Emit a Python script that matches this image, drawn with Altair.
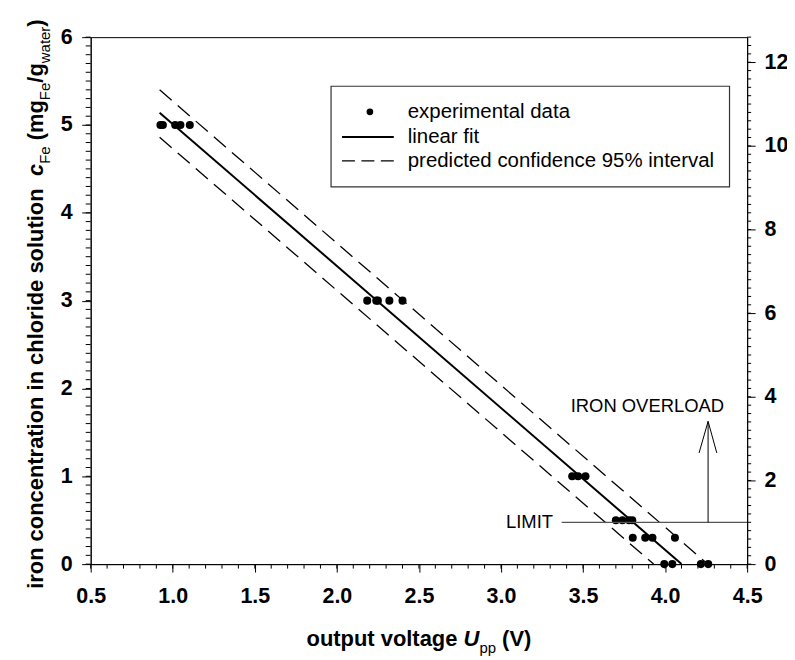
import altair as alt
import pandas as pd

FONT = "Liberation Sans"

# ---------------- data ----------------
# experimental data: concentration levels (mg_Fe/g_water) and voltages measured at each level
conc_levels = [5.0, 3.0, 1.0, 0.5, 0.3, 0.0]
volt_at_5 = [0.925, 0.94, 1.015, 1.047, 1.104]
volt_at_3 = [2.185, 2.24, 2.25, 2.32, 2.40]
volt_at_1 = [3.434, 3.47, 3.515]
volt_at_05 = [3.70, 3.74, 3.78, 3.80]
volt_at_03 = [3.803, 3.879, 3.923, 4.06]
volt_at_0 = [3.995, 4.044, 4.218, 4.263]

# linear fit and 95% prediction band (end points)
fit_volt = [0.92, 4.10]
fit_conc = [5.14, 0.0]
upper_volt = [0.92, 4.26]
upper_conc = [5.40, 0.0]
lower_volt = [0.92, 3.93]
lower_conc = [4.86, 0.0]

# limit line / overload arrow
limit_conc = 0.475            # corresponds to 1 on the right-hand axis
limit_volt = [3.37, 4.5]
arrow_volt = 4.262
arrow_top = 1.625
head_volt = [4.207, 4.262, 4.315]
head_conc = [1.266, 1.625, 1.266]

overload_text, overload_v, overload_c = "IRON OVERLOAD", 3.892, 1.795
limit_text, limit_v = "LIMIT", 3.317

legend_labels = ["experimental data", "linear fit", "predicted confidence 95% interval"]

x_domain = [0.5, 4.5]
y_domain = [0, 6]
r_domain = [0, 12.6]
x_major = [0.5, 1.0, 1.5, 2.0, 2.5, 3.0, 3.5, 4.0, 4.5]
y_major = [0, 1, 2, 3, 4, 5, 6]
r_major = [0, 2, 4, 6, 8, 10, 12]
x_minor = [round(0.5 + 0.1 * i, 2) for i in range(41)]
y_minor = [round(0.1 * i, 2) for i in range(61)]
r_minor = [round(0.2 * i, 2) for i in range(64)]

# ---------------- layout ----------------
W, H = 659, 529
LABEL_SIZE = 21.5
TITLE_SIZE = 22
SUB_SIZE = 15
SUB_SHIFT = 7
TICK = "black"

pts = pd.DataFrame({
    "v": volt_at_5 + volt_at_3 + volt_at_1 + volt_at_05 + volt_at_03 + volt_at_0,
    "c": [conc_levels[0]] * len(volt_at_5) + [conc_levels[1]] * len(volt_at_3)
    + [conc_levels[2]] * len(volt_at_1) + [conc_levels[3]] * len(volt_at_05)
    + [conc_levels[4]] * len(volt_at_03) + [conc_levels[5]] * len(volt_at_0),
})
fit_df = pd.DataFrame({"v": fit_volt, "c": fit_conc})
band_df = pd.DataFrame({"v": upper_volt + lower_volt, "c": upper_conc + lower_conc,
                        "band": ["upper"] * 2 + ["lower"] * 2})
limit_df = pd.DataFrame({"v": [limit_volt[0]], "v2": [limit_volt[1]], "c": [limit_conc]})
shaft_df = pd.DataFrame({"v": [arrow_volt], "c": [limit_conc], "c2": [arrow_top]})
head_df = pd.DataFrame({"v": head_volt, "c": head_conc, "o": [0, 1, 2]})
ann_df = pd.DataFrame({"v": [overload_v], "c": [overload_c], "t": [overload_text]})
lim_txt_df = pd.DataFrame({"v": [limit_v], "c": [limit_conc], "t": [limit_text]})

xscale = alt.Scale(domain=x_domain, nice=False, zero=False)
yscale = alt.Scale(domain=y_domain, nice=False, zero=False)
rscale = alt.Scale(domain=r_domain, nice=False, zero=False)

common = dict(title=None, grid=False, tickColor="black", tickWidth=1, domainColor="black",
              domainWidth=1, labelFont=FONT, labelFontSize=LABEL_SIZE, labelFontWeight="bold",
              labelColor="black", labelFlush=False, labelOverlap=False)
x_axis = alt.Axis(values=x_major, format=".1f", orient="bottom", tickSize=8, labelPadding=13.5, **common)
y_axis = alt.Axis(values=y_major, format="d", orient="left", tickSize=9, labelPadding=9.5, **common)
r_axis = alt.Axis(values=r_major, format="d", orient="right", tickSize=8, labelPadding=9, **common)

X = alt.X("v:Q", scale=xscale, axis=x_axis)
Y = alt.Y("c:Q", scale=yscale, axis=y_axis)
R = alt.Y("r:Q", scale=rscale, axis=r_axis)

points = alt.Chart(pts).mark_circle(size=65, color="black", opacity=1).encode(x=X, y=Y)
fit = alt.Chart(fit_df).mark_line(color="black", strokeWidth=2).encode(x=X, y=Y)
bands = alt.Chart(band_df).mark_line(color="black", strokeWidth=1.3, strokeDash=[16, 8]).encode(
    x=X, y=Y, detail="band:N")
limit = alt.Chart(limit_df).mark_rule(color="#555555", strokeWidth=1.2).encode(
    x=X, x2=alt.X2("v2"), y=Y)
shaft = alt.Chart(shaft_df).mark_rule(color="black", strokeWidth=1).encode(
    x=X, y=Y, y2=alt.Y2("c2"))
head = alt.Chart(head_df).mark_line(color="black", strokeWidth=1).encode(
    x=X, y=Y, order="o:Q")
overload = alt.Chart(ann_df).mark_text(font=FONT, fontSize=18.5, color="black",
                                       align="center", baseline="middle").encode(x=X, y=Y, text="t:N")
limit_label = alt.Chart(lim_txt_df).mark_text(font=FONT, fontSize=18.5, color="black",
                                              align="right", baseline="middle").encode(x=X, y=Y, text="t:N")

# minor ticks, drawn through the axis scales
x_minor_ticks = alt.Chart(pd.DataFrame({"v": x_minor})).mark_rule(color=TICK, strokeWidth=1).encode(
    x=X, y=alt.value(H), y2=alt.value(H + 4.5))
y_minor_ticks = alt.Chart(pd.DataFrame({"c": y_minor})).mark_rule(color=TICK, strokeWidth=1).encode(
    y=Y, x=alt.value(0), x2=alt.value(-5))

# legend (pixel positions inside the plot area)
one = pd.DataFrame({"k": [0]})
LX0, LX1, LY0, LY1 = 241.3, 641.3, 49.3, 150.3
ROW_Y = [75.0, 100.3, 124.3]
leg_box = alt.Chart(one).mark_rect(fill="white", stroke="#333333", strokeWidth=1.2).encode(
    x=alt.value(LX0), x2=alt.value(LX1), y=alt.value(LY0), y2=alt.value(LY1))
leg_dot = alt.Chart(one).mark_circle(size=45, color="black", opacity=1).encode(
    x=alt.value(280.3), y=alt.value(ROW_Y[0]))
leg_solid = alt.Chart(one).mark_rule(color="black", strokeWidth=2).encode(
    x=alt.value(252.3), x2=alt.value(304.3), y=alt.value(ROW_Y[1]))
leg_dash = alt.Chart(one).mark_rule(color="black", strokeWidth=1.3, strokeDash=[13, 6.5]).encode(
    x=alt.value(252.3), x2=alt.value(304.3), y=alt.value(ROW_Y[2]))
leg_texts = [
    alt.Chart(one).mark_text(text=lab, font=FONT, fontSize=20.5, color="black",
                             align="left", baseline="middle").encode(
        x=alt.value(318.3), y=alt.value(ROW_Y[i]))
    for i, lab in enumerate(legend_labels)
]

main = alt.layer(x_minor_ticks, y_minor_ticks, bands, fit, points, limit, shaft, head,
                 overload, limit_label, leg_box, leg_dot, leg_solid, leg_dash, *leg_texts)

# right-hand axis (second scale) with its minor ticks
right_minor_ticks = alt.Chart(pd.DataFrame({"r": r_minor})).mark_rule(color=TICK, strokeWidth=1).encode(
    y=R, x=alt.value(W), x2=alt.value(W + 4))
right = alt.layer(right_minor_ticks)

# axis titles with subscripts, assembled from pieces (Arial/Liberation metrics)
BOLD_W = {" ": 278, "(": 333, ")": 333, "/": 278, "a": 556, "c": 556, "d": 611, "e": 556,
          "g": 611, "h": 611, "i": 278, "l": 278, "m": 889, "n": 611, "o": 611, "p": 611,
          "r": 389, "s": 556, "t": 333, "u": 611, "v": 556, "w": 778, "U": 722, "V": 667, "F": 611}
REG_W = {"F": 611, "e": 556, "p": 556, "w": 722, "a": 556, "t": 278, "r": 333}

x_title_parts = [("output voltage", "bold", 0), ("U", "italic", 1), ("pp", "sub", 0), ("(V)", "bold", 1)]
y_title_parts = [("iron concentration in chloride solution", "bold", 0), ("c", "italic", 2),
                 ("Fe", "sub", 0), ("(mg", "bold", 1), ("Fe", "sub", 0), ("/g", "bold", 0),
                 ("water", "sub", 0), (")", "bold", 0)]


def piece_width(text, style, size):
    table = REG_W if style == "sub" else BOLD_W
    return sum(table[ch] for ch in text) * size / 1000.0


def lay(parts):
    rows, pos = [], 0.0
    for text, style, spaces in parts:
        pos += spaces * BOLD_W[" "] * TITLE_SIZE / 1000.0
        size = SUB_SIZE if style == "sub" else TITLE_SIZE
        rows.append({"text": text, "style": style, "off": pos, "size": size})
        pos += piece_width(text, style, size)
    return rows, pos


title_rows = []
xr, xtot = lay(x_title_parts)
x_start = W / 2 - xtot / 2
for r in xr:
    title_rows.append({"text": r["text"], "style": r["style"], "size": r["size"], "angle": 0,
                       "px": x_start + r["off"],
                       "py": 611.3 + (SUB_SHIFT if r["style"] == "sub" else 0)})
yr, ytot = lay(y_title_parts)
y_start = 268 + ytot / 2
for r in yr:
    title_rows.append({"text": r["text"], "style": r["style"], "size": r["size"], "angle": 270,
                       "px": -47.7 + (SUB_SHIFT if r["style"] == "sub" else 0),
                       "py": y_start - r["off"]})
tdf = pd.DataFrame(title_rows)


def title_layer(style, weight, fstyle):
    return alt.Chart(tdf[tdf["style"] == style]).mark_text(
        font=FONT, fontWeight=weight, fontStyle=fstyle, color="black",
        align="left", baseline="alphabetic").encode(
        x=alt.X("px:Q", scale=None, axis=None),
        y=alt.Y("py:Q", scale=None, axis=None),
        text="text:N",
        angle=alt.Angle("angle:Q", scale=None),
        size=alt.Size("size:Q", scale=None, legend=None))


t_bold = title_layer("bold", "bold", "normal")
t_ital = title_layer("italic", "bold", "italic")
t_sub = title_layer("sub", "normal", "normal")

chart = alt.layer(main, right, t_bold, t_ital, t_sub).resolve_scale(
    x="independent", y="independent"
).properties(
    width=W, height=H,
    autosize=alt.AutoSizeParams(type="none"),
    padding={"left": 83, "top": 28, "right": 40, "bottom": 95},
).configure_view(stroke="black", strokeWidth=1)

chart.save("out.html", embed_options={"renderer": "svg", "actions": False})
